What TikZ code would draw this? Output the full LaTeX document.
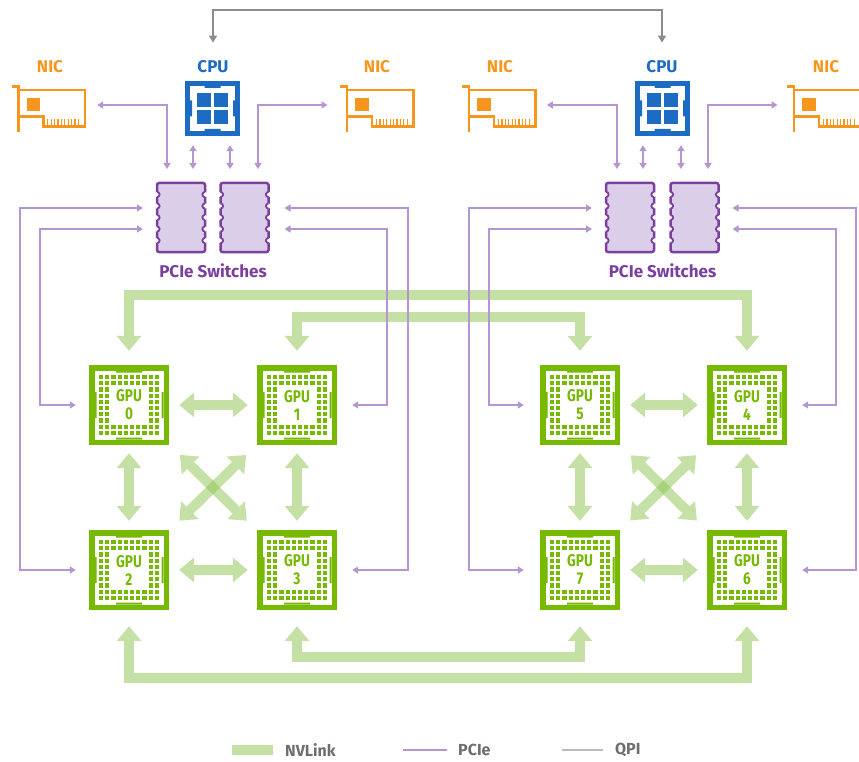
\documentclass[tikz,border=0pt]{standalone}
\usepackage{fontspec}
\setmainfont{Fira Sans}
\newfontfamily\gpufont{Fira Sans}[FakeStretch=0.8]
\usepackage{tikz}
\usetikzlibrary{arrows.meta}
\usetikzlibrary{calc}
\usetikzlibrary{positioning}

\definecolor{gpugreen}{RGB}{118,185,0}
\definecolor{nvgreen}{RGB}{196,224,164}
\definecolor{nvcross}{RGB}{140,196,80}
\definecolor{pcieline}{RGB}{181,150,211}
\definecolor{switchfill}{RGB}{218,206,232}
\definecolor{switchdraw}{RGB}{123,63,160}
\definecolor{cpublue}{RGB}{28,108,196}
\definecolor{nicorange}{RGB}{246,150,30}
\definecolor{qpigray}{RGB}{140,140,140}
\definecolor{legendgray}{RGB}{110,110,110}

\begin{document}
\begin{tikzpicture}[x=1pt, y=-1pt,
        lbl/.style={inner sep=2pt, font=\bfseries\fontsize{17}{17}\selectfont},
        nictext/.style={lbl, text=nicorange},
        cputext/.style={lbl, text=cpublue},
        swtext/.style={lbl, text=switchdraw},
        legtext/.style={inner sep=2pt, text=legendgray, font=\bfseries\fontsize{16}{16}\selectfont, anchor=west},
        gputext/.style={inner sep=0pt, text=gpugreen, align=center,
            font=\gpufont\bfseries\fontsize{17}{18}\selectfont},
        gpu/.style={minimum size=80pt, inner sep=0pt, fill=gpugreen,
            path picture={
                \begin{scope}[shift={(path picture bounding box.center)}]
                    \fill[white] (-34.5,-34.5) rectangle (34.5,34.5);
                    \fill[gpugreen] (-13,-34.5) rectangle (13,-32.5) (-13,34.5) rectangle (13,32.5)
                        (-34.5,-13) rectangle (-32.5,13) (34.5,-13) rectangle (32.5,13);
                    \foreach \i in {0,...,9}
                        \foreach \j in {0,...,9}
                            \fill[gpugreen] (-30+6.2*\i,-30+6.2*\j) rectangle ++(4.2,4.2);
                    \fill[white] (-18.6,-18.6) rectangle (18.6,18.6);
                \end{scope}}},
        cpu/.style={minimum size=55pt, inner sep=0pt, fill=cpublue,
            path picture={
                \begin{scope}[shift={(path picture bounding box.center)}]
                    \fill[white] (-22.5,-22.5) rectangle (22.5,22.5);
                    \fill[cpublue] (-8,-22.5) rectangle (8,-20.5) (-8,22.5) rectangle (8,20.5)
                        (-22.5,-8) rectangle (-20.5,8) (22.5,-8) rectangle (20.5,8);
                    \foreach \cx/\cy in {-15.8/-15.8, 1.5/-15.8, -15.8/1.5, 1.5/1.5}
                        \fill[cpublue] (\cx,\cy) rectangle ++(14.3,14.3);
                \end{scope}}},
        nicbox/.style={minimum width=80pt, minimum height=52pt, inner sep=0pt,
            path picture={
                \begin{scope}[shift={(path picture bounding box.center)}, nicorange, line width=2.5pt]
                    \draw (-35.3,-21.8) -- (-28.7,-21.8) -- (-28.7,23.2);
                    \draw (-28.7,-18.5) -- (38,-18.5) -- (38,18.2) -- (-3.7,18.2) -- (-3.7,8.2) -- (-28.7,8.2);
                    \fill (-20.3,-10.2) rectangle (-7,2.2);
                    \foreach \f in {0,...,9}
                        \draw[line width=1.2pt] (0.8+3.4*\f,10.5) -- ++(0,6);
                \end{scope}}},
        switchbox/.style={minimum width=48pt, minimum height=69pt, inner sep=0pt, outer sep=0pt,
            fill=switchfill, draw=switchdraw, line width=2.5pt, rounded corners=2pt},
        nvlink/.style={draw=nvgreen, line width=10pt, >={Triangle[width=24pt,length=15pt]}, <->},
        nvcrossing/.style={nvlink, draw=nvcross},
        pcie/.style={draw=pcieline, line width=1.8pt, >={Triangle[width=7pt,length=6pt]}, <->},
        qpi/.style={draw=qpigray, line width=2pt, >={Triangle[width=8pt,length=7pt]}, <->}
    ]
    \useasboundingbox (0,0) rectangle (859,762);

    % GPUs
    \foreach \n/\x/\y in {0/129/405, 1/297/405, 2/129/570, 3/297/570,
                          5/580/405, 4/747/405, 7/580/570, 6/747/570}
        \node[gpu, label={[gputext]center:{GPU\\\n}}] (gpu\n) at (\x,\y) {};

    % CPUs, NICs and switches
    \node[cpu] (cpuA) at (212.5,108.5) {};
    \node[cpu] (cpuB) at (662.5,108.5) {};
    \foreach \m/\x in {A/47, B/375.7, C/497.7, D/822.7}
        \node[nicbox] (nic\m) at (\x,108.5) {};
    \foreach \s/\x in {A1/181, A2/244.5, B1/630, B2/694.5}
        \node[switchbox] (sw\s) at (\x,217.5) {};

    % notches on the switch edges
    \foreach \s in {swA1,swA2,swB1,swB2}
        \foreach \k in {1,...,5} {
            \coordinate (nw) at ($(\s.north west)!{\k/6}!(\s.south west)$);
            \coordinate (ne) at ($(\s.north east)!{\k/6}!(\s.south east)$);
            \fill[white] (nw) circle (2.6) (ne) circle (2.6);
            \draw[switchdraw, line width=1.8pt] (nw) ++(0,-2.6) arc[start angle=-90, end angle=90, radius=2.6];
            \draw[switchdraw, line width=1.8pt] (ne) ++(0,-2.6) arc[start angle=-90, end angle=-270, radius=2.6];
        }

    % labels
    \foreach \m/\x in {A/50, B/377, C/500, D/826}
        \node[nictext] (nic\m txt) at (\x,67) {NIC};
    \node[cputext] (cpuAtxt) at (213,67) {CPU};
    \node[cputext] (cpuBtxt) at (662,67) {CPU};
    \node[swtext] (swAtxt) at (213,271) {PCIe Switches};
    \node[swtext] (swBtxt) at (662.5,271) {PCIe Switches};

    % NVLink inside each group
    \foreach \a/\b in {gpu0/gpu1, gpu2/gpu3, gpu5/gpu4, gpu7/gpu6}
        \draw[nvlink, shorten <=10pt, shorten >=9pt] (\a) -- (\b);
    \foreach \a/\b in {gpu0/gpu2, gpu1/gpu3, gpu5/gpu7, gpu4/gpu6}
        \draw[nvlink, shorten <=8pt, shorten >=9pt] (\a) -- (\b);
    \foreach \a/\b in {gpu0/gpu3, gpu1/gpu2, gpu5/gpu6, gpu4/gpu7} {
        \begin{scope}[transparency group, opacity=0.5]
            \draw[nvcrossing, shorten <=15pt, shorten >=14pt] (\a) -- (\b);
        \end{scope}
    }

    % NVLink between groups
    \draw[nvlink, shorten <=14pt, shorten >=14pt] (gpu0.north) -- (gpu0.north |- 0,295) -| (gpu4.north);
    \draw[nvlink, shorten <=14pt, shorten >=14pt] (gpu1.north) -- (gpu1.north |- 0,317) -| (gpu5.north);
    \draw[nvlink, shorten <=16pt, shorten >=16pt] (gpu3.south) -- (gpu3.south |- 0,657) -| (gpu7.south);
    \draw[nvlink, shorten <=16pt, shorten >=16pt] (gpu2.south) -- (gpu2.south |- 0,678) -| (gpu6.south);

    % PCIe: NICs to switches
    \draw[pcie, shorten <=10pt, shorten >=14pt] ([yshift=3.5pt]nicA.east) -| ([xshift=-14pt]swA1.north);
    \draw[pcie, shorten <=8pt, shorten >=14pt] ([yshift=3.5pt]nicB.west) -| ([xshift=13.5pt]swA2.north);
    \draw[pcie, shorten <=9pt, shorten >=14pt] ([yshift=3.5pt]nicC.east) -| ([xshift=-13pt]swB1.north);
    \draw[pcie, shorten <=5pt, shorten >=14pt] ([yshift=3.5pt]nicD.west) -| ([xshift=13.5pt]swB2.north);

    % PCIe: CPUs to switches
    \foreach \c/\s/\dx in {cpuA/swA1/-19.5, cpuA/swA2/17.5, cpuB/swB1/-19.5, cpuB/swB2/18.5}
        \draw[pcie, shorten <=9pt, shorten >=14pt] ([xshift=\dx pt]\c.south) -- ([xshift=\dx pt]\c.south |- \s.north);

    % PCIe: switches to GPUs
    \draw[pcie, shorten <=14pt, shorten >=13pt] ([yshift=9.5pt]swA1.west) -| (gpu2.west -| 20,0) -- (gpu2.west);
    \draw[pcie, shorten <=14pt, shorten >=13pt] ([yshift=-11.5pt]swA1.west) -| (gpu0.west -| 40,0) -- (gpu0.west);
    \draw[pcie, shorten <=16pt, shorten >=15pt] ([yshift=9.5pt]swA2.east) -| (gpu3.east -| 408,0) -- (gpu3.east);
    \draw[pcie, shorten <=16pt, shorten >=15pt] ([yshift=-11.5pt]swA2.east) -| (gpu1.east -| 387,0) -- (gpu1.east);
    \draw[pcie, shorten <=14pt, shorten >=16pt] ([yshift=9.5pt]swB1.west) -| (gpu7.west -| 469,0) -- (gpu7.west);
    \draw[pcie, shorten <=14pt, shorten >=16pt] ([yshift=-11.5pt]swB1.west) -| (gpu5.west -| 489,0) -- (gpu5.west);
    \draw[pcie, shorten <=14pt, shorten >=15pt] ([yshift=9.5pt]swB2.east) -| (gpu6.east -| 856,0) -- (gpu6.east);
    \draw[pcie, shorten <=14pt, shorten >=15pt] ([yshift=-11.5pt]swB2.east) -| (gpu4.east -| 836,0) -- (gpu4.east);

    % QPI between the CPUs
    \draw[qpi, shorten <=16pt, shorten >=16pt] (cpuAtxt.north) -- (cpuAtxt.north |- 0,10) -| (cpuBtxt.north);

    % legend
    \node[legtext] (legNV) at (283,750) {NVLink};
    \node[legtext] (legPC) at (456,750) {PCIe};
    \node[legtext] (legQP) at (613,750) {QPI};
    \draw[nvlink, -] ([xshift=-51pt]legNV.west) -- ([xshift=-10pt]legNV.west);
    \draw[pcie, -] ([xshift=-53pt]legPC.west) -- ([xshift=-9pt]legPC.west);
    \draw[qpi, -, draw=qpigray!60] ([xshift=-51pt]legQP.west) -- ([xshift=-10pt]legQP.west);
\end{tikzpicture}
\end{document}
